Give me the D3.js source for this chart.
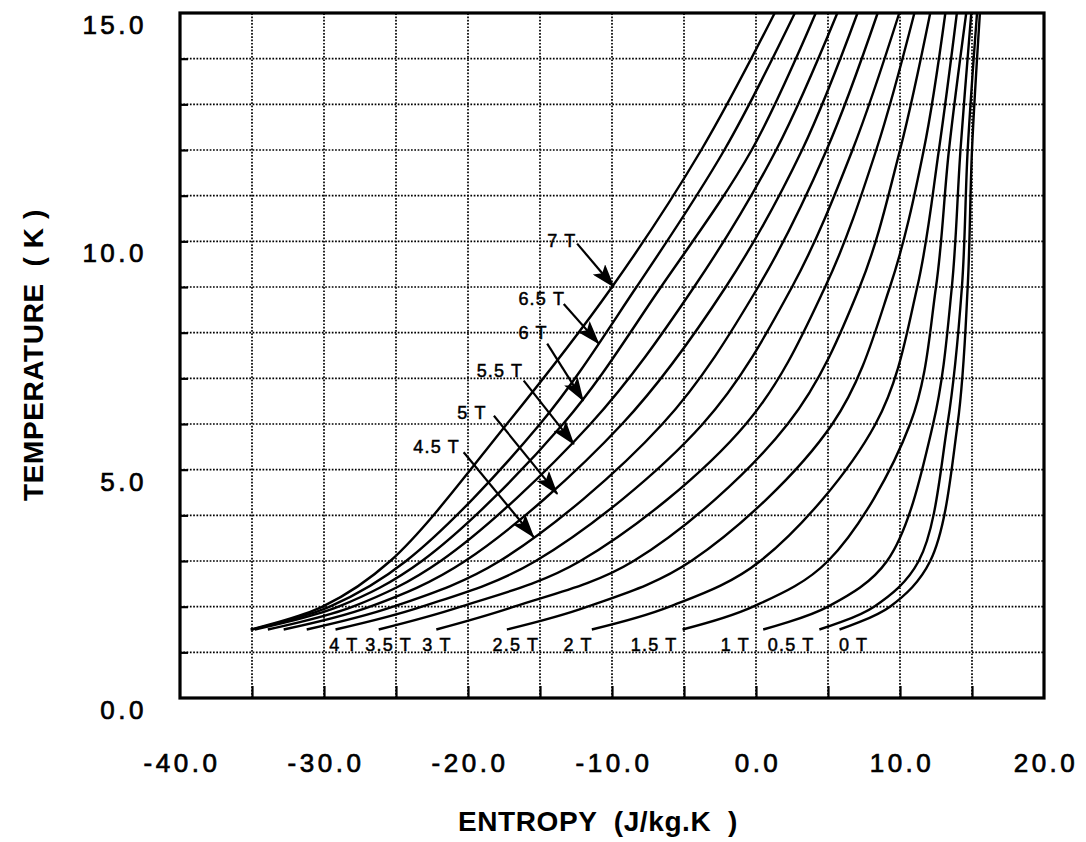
<!DOCTYPE html>
<html>
<head>
<meta charset="utf-8">
<script src="https://cdn.jsdelivr.net/npm/d3@7"></script>
<style>
  body { margin: 0; background: #fff; }
  svg { display: block; font-family: "Liberation Sans", Arial, Helvetica, sans-serif; }
  .axis-num { font-size: 26px; letter-spacing: 3.5px; fill: #000; stroke: #000; stroke-width: 0.7px; }
  .axis-title { font-size: 28px; font-weight: bold; fill: #000; white-space: pre; letter-spacing: 0.6px; }
  .curve-label { font-size: 18px; letter-spacing: 1.2px; fill: #000; stroke: #000; stroke-width: 0.5px; white-space: pre; }
</style>
</head>
<body>
<svg id="chart" width="1086" height="842"></svg>
<script>
// temperature levels (K) where each isofield curve was read
const tempLevels = [1.5, 2, 3, 6, 9, 12, 15];

// entropy (J/kg.K) of each curve at those temperatures
const s7T   = [-35.1, -30.1, -25.4, -17.3, -10.0, -3.8, 1.3];
const s6_5T = [-35.0, -29.6, -24.3, -15.0, -8.3, -2.2, 2.7];
const s6T   = [-34.8, -29.0, -23.2, -13.4, -6.6, -0.3, 4.15];
const s5_5T = [-33.9, -28.0, -21.9, -11.5, -4.3, 1.4, 5.65];
const s5T   = [-32.8, -26.8, -20.2, -9.3, -2.1, 3.2, 7.05];
const s4_5T = [-31.2, -25.2, -17.8, -6.5, 0.15, 4.9, 8.45];
const s4T   = [-29.2, -23.2, -15.3, -3.7, 2.5, 6.7, 9.95];
const s3_5T = [-26.2, -20.5, -12.2, -0.7, 4.8, 8.35, 11.0];
const s3T   = [-22.2, -16.8, -8.5, 2.2, 7.2, 10.0, 12.1];
const s2_5T = [-17.3, -11.7, -4.5, 5.3, 9.3, 11.65, 13.15];
const s2T   = [-11.4, -6.0, 0.3, 8.3, 11.2, 12.7, 13.95];
const s1_5T = [-5.1, -0.2, 5.0, 10.7, 12.5, 13.4, 14.6];
const s1T   = [0.5, 5.0, 9.1, 12.3, 13.6, 14.2, 14.95];
const s0_5T = [4.4, 8.2, 11.3, 13.3, 14.3, 14.7, 15.35];
const s0T   = [5.8, 9.3, 12.1, 14.0, 14.7, 15.0, 15.55];

const fieldNames = ['7 T', '6.5 T', '6 T', '5.5 T', '5 T', '4.5 T', '4 T', '3.5 T',
                    '3 T', '2.5 T', '2 T', '1.5 T', '1 T', '0.5 T', '0 T'];
const seriesList = [s7T, s6_5T, s6T, s5_5T, s5T, s4_5T, s4T, s3_5T,
                    s3T, s2_5T, s2T, s1_5T, s1T, s0_5T, s0T];

// tick values
const xTicks = [-35, -30, -25, -20, -15, -10, -5, 0, 5, 10, 15];
const xLabelTicks = [-40, -30, -20, -10, 0, 10, 20];
const yTicks = d3.range(1, 15);
const yLabelTicks = [0, 5, 10, 15];

// labels placed under the low-temperature ends
const bottomLabels = ['4 T', '3.5 T', '3 T', '2.5 T', '2 T', '1.5 T', '1 T', '0.5 T', '0 T'];
const bottomLabelS = [-29.64, -27.13, -23.17, -18.3, -13.37, -8.7, -2.45, 0.82, 5.76];
const bottomLabelT = 1.03;

// arrow labels for the high-field curves
const arrowLabels = ['7 T', '6.5 T', '6 T', '5.5 T', '5 T', '4.5 T'];
const arrowTextS = [-14.5, -16.5, -16.5, -19.4, -20.74, -23.8];
const arrowTextT = [9.87, 8.6, 7.87, 7.02, 6.12, 5.37];
const arrowFromS = [-12.42, -13.35, -14.5, -16.13, -18.2, -20.3];
const arrowFromT = [9.95, 8.63, 7.76, 6.95, 6.18, 5.38];
const arrowToS = [-9.87, -10.91, -12.0, -12.65, -13.8, -15.43];
const arrowToT = [9.0, 7.76, 6.51, 5.56, 4.47, 3.52];

const svg = d3.select('#chart');
const margin = { left: 180, right: 42, top: 13, bottom: 144 };
const width = +svg.attr('width');
const height = +svg.attr('height');

const x = d3.scaleLinear().domain([-40, 20]).range([margin.left, width - margin.right]);
const y = d3.scaleLinear().domain([0, 15]).range([height - margin.bottom, margin.top]);

svg.append('rect').attr('width', width).attr('height', height).attr('fill', '#fff');

// dotted grid
const grid = svg.append('g').attr('stroke', '#000').attr('stroke-width', 1.7)
    .attr('stroke-dasharray', '1.7,1.6');
grid.selectAll('line.v').data(xTicks).enter().append('line')
    .attr('class', 'v')
    .attr('x1', d => x(d)).attr('x2', d => x(d))
    .attr('y1', y(0)).attr('y2', y(15));
grid.selectAll('line.h').data(yTicks).enter().append('line')
    .attr('class', 'h')
    .attr('x1', x(-40)).attr('x2', x(20))
    .attr('y1', d => y(d)).attr('y2', d => y(d));

// axes: inward ticks
const xAxis = svg.append('g')
    .attr('transform', `translate(0,${y(0)})`)
    .call(d3.axisBottom(x).tickValues(xTicks).tickSize(-12).tickFormat(''));
const yAxis = svg.append('g')
    .attr('transform', `translate(${x(-40)},0)`)
    .call(d3.axisLeft(y).tickValues(yTicks).tickSize(-8).tickFormat(''));
[xAxis, yAxis].forEach(a => {
    a.select('.domain').remove();
    a.selectAll('.tick line').attr('stroke', '#000').attr('stroke-width', 2.2);
});

// tick labels
svg.append('g').selectAll('text').data(xLabelTicks).enter().append('text')
    .attr('class', 'axis-num')
    .attr('x', d => x(d) + 2)
    .attr('y', y(0) + 74)
    .attr('text-anchor', 'middle')
    .text(d => d.toFixed(1));
svg.append('g').selectAll('text').data(yLabelTicks).enter().append('text')
    .attr('class', 'axis-num')
    .attr('x', x(-40) - 33)
    .attr('y', d => y(d) + 21)
    .attr('text-anchor', 'end')
    .text(d => d.toFixed(1));

// frame
svg.append('rect')
    .attr('x', x(-40)).attr('y', y(15))
    .attr('width', x(20) - x(-40)).attr('height', y(0) - y(15))
    .attr('fill', 'none').attr('stroke', '#000').attr('stroke-width', 3.2);

// curves
const curves = fieldNames.map((name, i) => ({
    name,
    points: tempLevels.map((t, j) => ({ s: seriesList[i][j], t }))
}));

const line = d3.line()
    .x(d => x(d.s))
    .y(d => y(d.t))
    .curve(d3.curveCatmullRom.alpha(0.5));

svg.append('g').selectAll('path').data(curves).enter().append('path')
    .attr('d', d => line(d.points))
    .attr('fill', 'none')
    .attr('stroke', '#000')
    .attr('stroke-width', 2.4);

// bottom labels
svg.append('g').selectAll('text').data(bottomLabels).enter().append('text')
    .attr('class', 'curve-label')
    .attr('x', (d, i) => x(bottomLabelS[i]))
    .attr('y', y(bottomLabelT))
    .text(d => d);

// arrow annotations
svg.append('defs').append('marker')
    .attr('id', 'head')
    .attr('markerUnits', 'userSpaceOnUse')
    .attr('viewBox', '0 0 24 16')
    .attr('refX', 23).attr('refY', 8)
    .attr('markerWidth', 24).attr('markerHeight', 16)
    .attr('orient', 'auto')
    .append('path').attr('d', 'M0,0L24,8L0,16L5,8Z').attr('fill', '#000');

const ann = svg.append('g');
ann.selectAll('line').data(arrowLabels).enter().append('line')
    .attr('x1', (d, i) => x(arrowFromS[i])).attr('y1', (d, i) => y(arrowFromT[i]))
    .attr('x2', (d, i) => x(arrowToS[i])).attr('y2', (d, i) => y(arrowToT[i]))
    .attr('stroke', '#000').attr('stroke-width', 2.2)
    .attr('marker-end', 'url(#head)');
ann.selectAll('text').data(arrowLabels).enter().append('text')
    .attr('class', 'curve-label')
    .attr('x', (d, i) => x(arrowTextS[i]))
    .attr('y', (d, i) => y(arrowTextT[i]))
    .text(d => d);

// axis titles
svg.append('text')
    .attr('class', 'axis-title')
    .attr('x', 598).attr('y', 831)
    .attr('text-anchor', 'middle')
    .text('ENTROPY  (J/kg.K  )');
svg.append('text')
    .attr('class', 'axis-title')
    .attr('transform', `translate(43,355) rotate(-90)`)
    .attr('text-anchor', 'middle')
    .text('TEMPERATURE  ( K )');
</script>
</body>
</html>
